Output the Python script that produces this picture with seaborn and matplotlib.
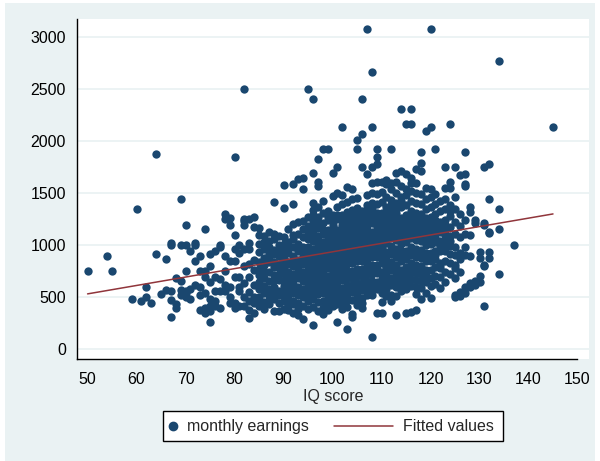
import numpy as np
import pandas as pd
import matplotlib
matplotlib.use("Agg")
import matplotlib.pyplot as plt
from matplotlib.lines import Line2D
from matplotlib.patches import Rectangle
import seaborn as sns

# Monthly earnings by IQ score, grouped by IQ band
iq_low = [50, 54, 55, 59, 60, 61, 62, 63, 64, 65, 66, 67, 68, 69, 70, 71, 72, 73, 74,
          75, 76, 77, 78, 79, 80, 81, 82, 83, 84]
wage_low = [
    [750], [900], [750], [480], [1350], [460], [600, 500], [450], [1875, 920], [530],
    [870, 570], [1000, 1020, 470, 310, 560], [400, 690, 440], [1450, 1000, 660, 570, 520],
    [1200, 1000, 750, 540, 560, 500], [950, 480, 580], [1000, 850, 620, 1020],
    [900, 520, 380, 750, 600], [1160, 750, 350, 400, 540, 700],
    [920, 800, 260, 480, 420, 650, 370], [950, 700, 420, 560, 460],
    [1000, 560, 980, 680, 400], [1300, 1250, 900, 750, 560, 620],
    [1200, 600, 450, 1260, 850, 500], [1850, 1100, 400, 850, 700, 450, 960],
    [1000, 700, 930, 600, 420, 560], [2500, 1250, 1200, 960, 500, 800, 640, 420, 1230],
    [1250, 960, 300, 380, 550, 700, 460, 820, 1020],
    [1270, 500, 350, 1180, 620, 860, 760, 450],
]

iq_mid = list(range(85, 111))
wage_mid = [
    [1165, 1010, 842, 583, 412, 935, 716, 503, 648, 1102, 468, 774],
    [1090, 876, 752, 605, 455, 962, 688, 541, 811, 392, 1031],
    [1046, 918, 836, 661, 518, 433, 580, 1124, 741, 478, 985, 864],
    [1418, 1108, 955, 838, 717, 603, 484, 372, 668, 914, 1056, 789, 551],
    [1094, 1007, 901, 778, 664, 561, 443, 371, 818, 968, 723, 524],
    [1578, 1362, 1082, 958, 866, 761, 655, 571, 466, 392, 912, 1014, 727, 608, 521, 812],
    [1158, 1036, 923, 838, 747, 641, 525, 415, 382, 969, 684, 580, 821, 472],
    [1587, 1396, 1208, 1102, 983, 901, 798, 722, 628, 541, 465, 347, 1063, 847, 669, 586, 432],
    [1641, 1222, 1113, 1010, 944, 859, 772, 684, 603, 525, 448, 331, 961, 827, 718, 562, 391],
    [1643, 1539, 1230, 1078, 985, 899, 818, 744, 658, 578, 499, 420, 288, 1157, 940, 683, 545, 859],
    [2500, 1276, 1181, 1060, 987, 902, 830, 762, 681, 620, 541, 461, 389, 1132, 946, 722, 588, 803, 503],
    [2404, 1700, 1410, 1338, 1238, 1136, 1037, 965, 888, 815, 748, 676, 607, 548, 487, 409, 230,
     1088, 927, 708, 846, 1287, 638, 1186],
    [1833, 1612, 1573, 1372, 1268, 1168, 1086, 1007, 939, 866, 797, 727, 658, 588, 528, 457, 371,
     1049, 888, 746, 627, 1211, 549, 973],
    [1925, 1430, 1313, 1211, 1109, 1028, 948, 879, 808, 737, 669, 598, 538, 469, 399, 344,
     992, 848, 707, 1152, 631, 909, 776],
    [1925, 1334, 1241, 1152, 1069, 991, 918, 849, 781, 709, 641, 571, 499, 432, 378,
     1114, 951, 809, 690, 1273, 592, 889, 1031],
    [1700, 1478, 1294, 1192, 1113, 1031, 963, 892, 822, 751, 681, 612, 552, 483, 413,
     1072, 932, 792, 651, 1242, 533, 871, 731, 1152],
    [1750, 1502, 1373, 1253, 1151, 1074, 993, 924, 853, 782, 712, 643, 573, 503, 434, 265,
     1113, 953, 812, 673, 1296, 593, 893, 1034],
    [2140, 1481, 1397, 1296, 1192, 1103, 1024, 943, 873, 803, 733, 663, 594, 524, 455, 386,
     1153, 983, 834, 694, 1247, 554, 914, 1062],
    [1562, 1421, 1317, 1214, 1126, 1045, 963, 894, 824, 753, 683, 614, 545, 475, 406, 200,
     1177, 996, 854, 714, 1276, 575, 933, 497, 1093],
    [1541, 1441, 1337, 1238, 1147, 1056, 976, 897, 826, 756, 686, 616, 547, 476, 340, 310,
     1196, 1007, 866, 717, 1298, 596, 946, 1105],
    [2010, 1925, 1452, 1358, 1257, 1167, 1079, 998, 918, 847, 777, 708, 637, 567, 497, 428,
     1218, 1037, 877, 737, 1319, 598, 957, 527, 1128],
    [2404, 2070, 1750, 1334, 1243, 1153, 1074, 995, 915, 846, 776, 706, 636, 566, 497, 394,
     1205, 1036, 876, 736, 1296, 606, 946, 446, 1124],
    [3078, 1690, 1484, 1386, 1287, 1198, 1108, 1029, 949, 870, 799, 729, 659, 589, 520,
     1249, 1069, 909, 770, 630, 1349, 990, 570, 1150],
    [2668, 2140, 1750, 1603, 1504, 1406, 1307, 1217, 1128, 1049, 969, 889, 809, 729, 659, 589,
     520, 115, 1267, 1089, 929, 770, 1357, 1009, 630],
    [1925, 1850, 1780, 1604, 1496, 1398, 1308, 1219, 1130, 1050, 970, 890, 810, 730, 650, 580,
     350, 1270, 1090, 930, 770, 1010, 610, 1180],
    [1611, 1512, 1414, 1315, 1225, 1146, 1066, 986, 906, 826, 746, 677, 607, 537, 457, 350,
     1176, 1026, 866, 716, 1266, 946, 637, 1096],
]

iq_high = list(range(111, 133)) + [134, 137, 145]
wage_high = [
    [1624, 1587, 1468, 1367, 1273, 1178, 1097, 1021, 938, 862, 787, 718, 653, 577, 508,
     1231, 1049, 906, 752, 1312, 613, 1143],
    [1925, 1603, 1546, 1437, 1338, 1249, 1158, 1079, 997, 918, 838, 758, 688, 617, 527,
     1288, 1108, 947, 797, 1388, 647, 1208, 466],
    [1700, 1604, 1506, 1407, 1308, 1217, 1128, 1047, 967, 887, 808, 737, 667, 597, 517, 330,
     1268, 1088, 928, 767, 1349, 627, 1168],
    [2308, 1710, 1567, 1468, 1368, 1267, 1178, 1087, 1008, 927, 848, 767, 697, 627, 557,
     1228, 1048, 888, 1427, 667, 948, 1127],
    [2163, 1690, 1541, 1488, 1387, 1288, 1198, 1107, 1028, 948, 867, 787, 717, 647, 577, 350,
     1248, 1068, 908, 748, 607, 1147],
    [2308, 2163, 1650, 1600, 1527, 1428, 1328, 1238, 1148, 1067, 988, 907, 827, 747, 677, 607,
     360, 1288, 1107, 948, 787, 1187],
    [1730, 1596, 1507, 1408, 1308, 1217, 1128, 1048, 968, 887, 808, 737, 667, 597, 378,
     1268, 1088, 928, 777, 528, 1167],
    [1900, 1795, 1710, 1497, 1398, 1297, 1207, 1118, 1038, 957, 878, 797, 727, 657, 587,
     1248, 1068, 917, 767, 480, 1168],
    [2100, 1547, 1448, 1348, 1258, 1168, 1088, 1007, 927, 848, 767, 697, 538, 1208, 1048,
     907, 747, 647, 1128],
    [3078, 2140, 1540, 1468, 1368, 1268, 1178, 1088, 1008, 928, 848, 767, 687, 490, 1228,
     1048, 897, 607, 1148],
    [1926, 1497, 1398, 1298, 1198, 1108, 1028, 948, 868, 788, 707, 627, 1248, 1068, 908, 1168],
    [1428, 1328, 1228, 1128, 1038, 948, 811, 778, 697, 586, 1168, 998, 828],
    [1750, 1548, 1448, 1348, 1248, 1148, 1048, 948, 848, 748, 648, 1198, 998, 1098],
    [2163, 1605, 1548, 1388, 1278, 1178, 1088, 998, 918, 828, 728, 1328, 1038],
    [1750, 1468, 1348, 1228, 1108, 987, 907, 811, 778, 688, 522, 506],
    [1680, 1298, 1188, 1078, 923, 868, 748, 554, 510],
    [1900, 1686, 1590, 1570, 1248, 1108, 988, 908, 602, 540],
    [1372, 1323, 1100, 900, 634, 600],
    [1218, 1240, 660, 620],
    [939, 875, 705, 650],
    [1750, 1211, 1200, 811, 420, 800],
    [1782, 1442, 1122, 939, 875, 1130],
    [2771, 1349, 1157, 724],
    [1003],
    [2137],
]

rows = []
for iqs, wages in ((iq_low, wage_low), (iq_mid, wage_mid), (iq_high, wage_high)):
    for iq, ws in zip(iqs, wages):
        rows.extend((iq, w) for w in ws)
df = pd.DataFrame(rows, columns=["iq", "wage"])

x_ticks = list(range(50, 151, 10))
y_ticks = list(range(0, 3001, 500))

navy = "#1a476f"
maroon = "#90353b"
bg = "#eaf2f3"

sns.set_style("white")
plt.rcParams["font.family"] = ["Liberation Sans", "DejaVu Sans"]

fig = plt.figure(figsize=(6.0, 4.61), dpi=100, facecolor="white")
fig.patches.append(Rectangle((5 / 600, 0), 590 / 600, 1 - 3 / 461,
                             transform=fig.transFigure, facecolor=bg,
                             edgecolor="none", zorder=-10))

ax = fig.add_axes([77 / 600, 1 - 359 / 461, 512 / 600, 340 / 461])
ax.set_facecolor("white")

sns.scatterplot(data=df, x="iq", y="wage", color=navy, s=36, linewidth=0,
                alpha=1, ax=ax, legend=False, zorder=3)
sns.regplot(data=df, x="iq", y="wage", scatter=False, ci=None, ax=ax,
            line_kws=dict(color=maroon, lw=1.1, zorder=4))

ax.set_xlim(47.84, 152.35)
ax.set_ylim(-93, 3176)
ax.set_xticks(x_ticks)
ax.set_yticks(y_ticks)
ax.set_yticklabels([str(v) for v in y_ticks])
ax.yaxis.grid(True, color=bg, lw=1.3)
ax.xaxis.grid(False)
ax.set_axisbelow(True)

for side in ("top", "right"):
    ax.spines[side].set_visible(False)
for side in ("left", "bottom"):
    ax.spines[side].set_color("black")
    ax.spines[side].set_linewidth(1.0)
ax.spines["bottom"].set_bounds(47.84, 150)

ax.tick_params(axis="both", direction="out", length=5, width=1, color="black",
               labelsize=11.5, labelcolor="black")
ax.tick_params(axis="y", pad=3)
ax.tick_params(axis="x", pad=4)
ax.set_xlabel("IQ score", fontsize=11.5, labelpad=2)
ax.set_ylabel("")

# Legend box drawn in figure pixel coordinates
px = lambda x: x / 600
py = lambda y: 1 - y / 461
fig.patches.append(Rectangle((px(163), py(441)), px(340), 30 / 461,
                             transform=fig.transFigure, facecolor="white",
                             edgecolor="black", lw=1.0, zorder=5))
fig.lines.append(Line2D([px(173)], [py(426)], transform=fig.transFigure,
                        marker="o", ms=6, color=navy, mec=navy, ls="none", zorder=6))
fig.text(px(187), py(426), "monthly earnings", fontsize=11.5, va="center",
         ha="left", zorder=6)
fig.lines.append(Line2D([px(334), px(393)], [py(426), py(426)], transform=fig.transFigure,
                        color=maroon, lw=1.1, zorder=6))
fig.text(px(403), py(426), "Fitted values", fontsize=11.5, va="center",
         ha="left", zorder=6)

fig.savefig("out.png", dpi=100, facecolor="white")
